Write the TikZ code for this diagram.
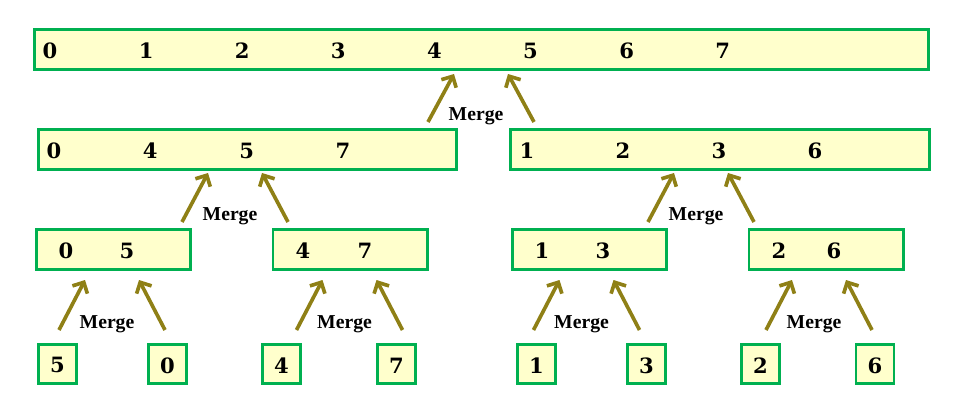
\documentclass[tikz,border=0pt]{standalone}
\usepackage{fontspec}
\setmainfont{Liberation Serif}
\newfontfamily\digitfont{DejaVu Serif}
\usetikzlibrary{arrows.meta}

\definecolor{cellfill}{RGB}{255,255,204}
\definecolor{cellline}{RGB}{0,176,80}
\definecolor{mergecol}{RGB}{143,128,22}

\tikzset{
  cell/.style={draw=cellline, fill=cellfill, line width=2.1pt, shape=rectangle, inner sep=0pt},
  digit/.style={font=\digitfont\bfseries\fontsize{15}{17}\selectfont, inner sep=0pt},
  mergearrow/.style={draw=mergecol, line width=2.6pt, -{Straight Barb[length=6pt, width=12pt]}},
  mergelabel/.style={font=\bfseries\fontsize{14}{16}\selectfont, inner sep=0pt}
}

\begin{document}
\begin{tikzpicture}[x=0.025cm, y=-0.025cm]
\useasboundingbox (0,0) rectangle (968,402);

% Define boxes
\node[cell, minimum width=22.35cm, minimum height=1cm] (all) at (481.5,49.5) {};
\node[cell, minimum width=10.45cm, minimum height=1cm] (lo) at (247.5,149.5) {};
\node[cell, minimum width=10.45cm, minimum height=1cm] (hi) at (720,149.5) {};
\foreach \name/\cx in {pa/113.5, pb/350, pc/589.5, pd/826}
  \node[cell, minimum width=3.85cm, minimum height=1cm] (\name) at (\cx,249.5) {};
\foreach \name/\cx in {sa/57.5, sb/167.5, sc/281.5, sd/396.5, se/536.5, sf/646.5, sg/760.5, sh/875}
  \node[cell, minimum width=0.95cm, minimum height=0.975cm] (\name) at (\cx,364) {};

% Numbers
\foreach \d [count=\i from 0] in {0,1,2,3,4,5,6,7}
  \node[digit] (all-\i) at (50+96.1*\i,51) {\d};
\foreach \d [count=\i from 0] in {0,4,5,7}
  \node[digit] (lo-\i) at (54+96.3*\i,151) {\d};
\foreach \d [count=\i from 0] in {1,2,3,6}
  \node[digit] (hi-\i) at (527+96*\i,151) {\d};
\foreach \name/\a/\b/\xa/\xb in {pa/0/5/66/127, pb/4/7/303/365, pc/1/3/542/603, pd/2/6/779/834} {
  \node[digit] (\name-0) at (\xa,251) {\a};
  \node[digit] (\name-1) at (\xb,251) {\b};
}
\foreach \name/\d in {sa/5, sb/0, sc/4, sd/7, se/1, sf/3, sg/2, sh/6}
  \node[digit] (\name-0) at ([yshift=-1pt]\name.center) {\d};

% Merge arrows
\foreach \name/\cx/\ylow/\yhigh in {ma/112/330/280, mb/349.5/330/280, mc/586.5/330/280, md/819/330/280,
    me/235/222/173, mf/701/222/173, mg/481/122/74} {
  \coordinate (\name-a) at (\cx-53,\ylow);
  \coordinate (\name-b) at (\cx-27,\yhigh);
  \coordinate (\name-c) at (\cx+53,\ylow);
  \coordinate (\name-d) at (\cx+27,\yhigh);
  \draw[mergearrow] (\name-a) -- (\name-b);
  \draw[mergearrow] (\name-c) -- (\name-d);
  \node[mergelabel] (\name-label) at (\cx-5,\ylow-5.5) {Merge};
}

\end{tikzpicture}
\end{document}
